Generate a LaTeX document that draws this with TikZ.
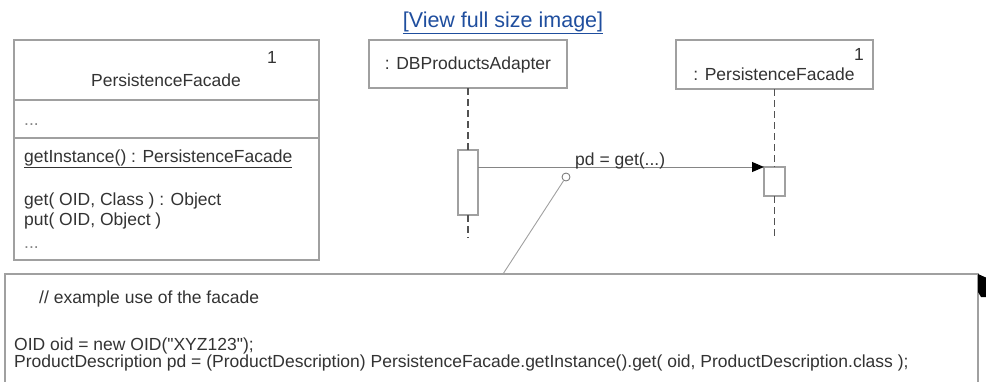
\documentclass[tikz,border=0pt]{standalone}
\usepackage{fontspec}
\setmainfont{Liberation Sans}
\usetikzlibrary{arrows.meta,positioning,calc}
\definecolor{Ink}{HTML}{333333}
\definecolor{Frame}{HTML}{A0A0A0}
\definecolor{Link}{HTML}{1F4E9E}

\begin{document}
\begin{tikzpicture}[x=1pt,y=-1pt,
  box/.style={draw=Frame,line width=1.3pt,inner sep=0pt,outer sep=0pt,fill=white},
  txt/.style={font=\fontsize{17.5}{21}\selectfont,text=Ink,inner sep=0pt},
  life/.style={Ink!85,line width=1.1pt,dash pattern=on 7pt off 4pt}]
\useasboundingbox (0,0) rectangle (986,381);
\clip (0,0) rectangle (986,381);
\node[font=\fontsize{21.5}{25}\selectfont,text=Link,inner sep=0pt,anchor=base] (viewlink) at (503,27) {\underline{[View full size image]}};
% class box
\node[box,anchor=north west,minimum width=305pt,minimum height=60pt] (hdr) at (14,40) {};
\node[box,minimum width=305pt,minimum height=38pt,below=0pt of hdr] (attr) {};
\node[box,minimum width=305pt,minimum height=122pt,below=0pt of attr] (ops) {};
\node[txt,anchor=base] (clsname) at (166,86) {PersistenceFacade};
\node[txt,anchor=base] (clsmult) at (272,63) {1};
\node[txt,anchor=base west,text=Ink!60] (attrdots) at (24,125) {...};
\node[txt,anchor=base west] (getinst) at (24,162) {\underline{getInstance() : PersistenceFacade}};
\node[txt,anchor=base west] (opget) at (24,205) {get( OID, Class ) : Object};
\node[txt,anchor=base west] (opput) at (24,225) {put( OID, Object )};
\node[txt,anchor=base west,text=Ink!60] (opdots) at (24,248) {...};
% lifelines
\node[box,anchor=north west,minimum width=198pt,minimum height=48pt] (adapter) at (369,40) {};
\node[txt,anchor=base] (adaptername) at (468,69) {: DBProductsAdapter};
\node[box,anchor=north west,minimum width=197pt,minimum height=49pt] (facade) at (676,40) {};
\node[txt,anchor=base] (facadename) at (774,80) {: PersistenceFacade};
\node[txt,anchor=base] (facademult) at (859,60) {1};
\node[box,anchor=north,minimum width=20pt,minimum height=65pt] (actA) at (468,150) {};
\node[box,anchor=north,minimum width=21pt,minimum height=29pt] (actB) at (774.5,167) {};
\coordinate (endA) at (468,238);
\coordinate (endB) at (774.5,238);
\draw[life] (adapter.south) -- (actA.north);
\draw[life] (actA.south) -- (endA);
\draw[life] (facade.south) -- (actB.north);
\draw[life] (actB.south) -- (endB);
% message
\draw[Ink!60,line width=1pt,-{Triangle[length=12pt,width=10pt,color=black]}] (actA.east |- actB.north west) -- (actB.north west);
\node[txt,anchor=base west] (msg) at (575,165) {pd = get(...)};
% note
\node[box,anchor=north west,minimum width=973pt,minimum height=200pt] (note) at (5,274) {};
\fill[black] (note.north east) -- ++(9,4) -- ++(0,19) -- ++(-6,0) -- ++(-3,-5) -- cycle;
\node[draw=Ink!70,fill=white,circle,minimum size=8pt,inner sep=0pt,line width=0.8pt] (pin) at (566,177) {};
\coordinate (tie) at (503,274);
\draw[Frame,line width=0.9pt] (pin) -- (tie);
\node[txt,anchor=base west] (comment) at (39,303) {// example use of the facade};
\node[txt,anchor=base west] (line1) at (14,350) {OID oid = new OID(\textquotedbl XYZ123\textquotedbl);};
\node[txt,anchor=base west] (line2) at (14,367) {ProductDescription pd = (ProductDescription) PersistenceFacade.getInstance().get( oid, ProductDescription.class );};
\end{tikzpicture}
\end{document}
